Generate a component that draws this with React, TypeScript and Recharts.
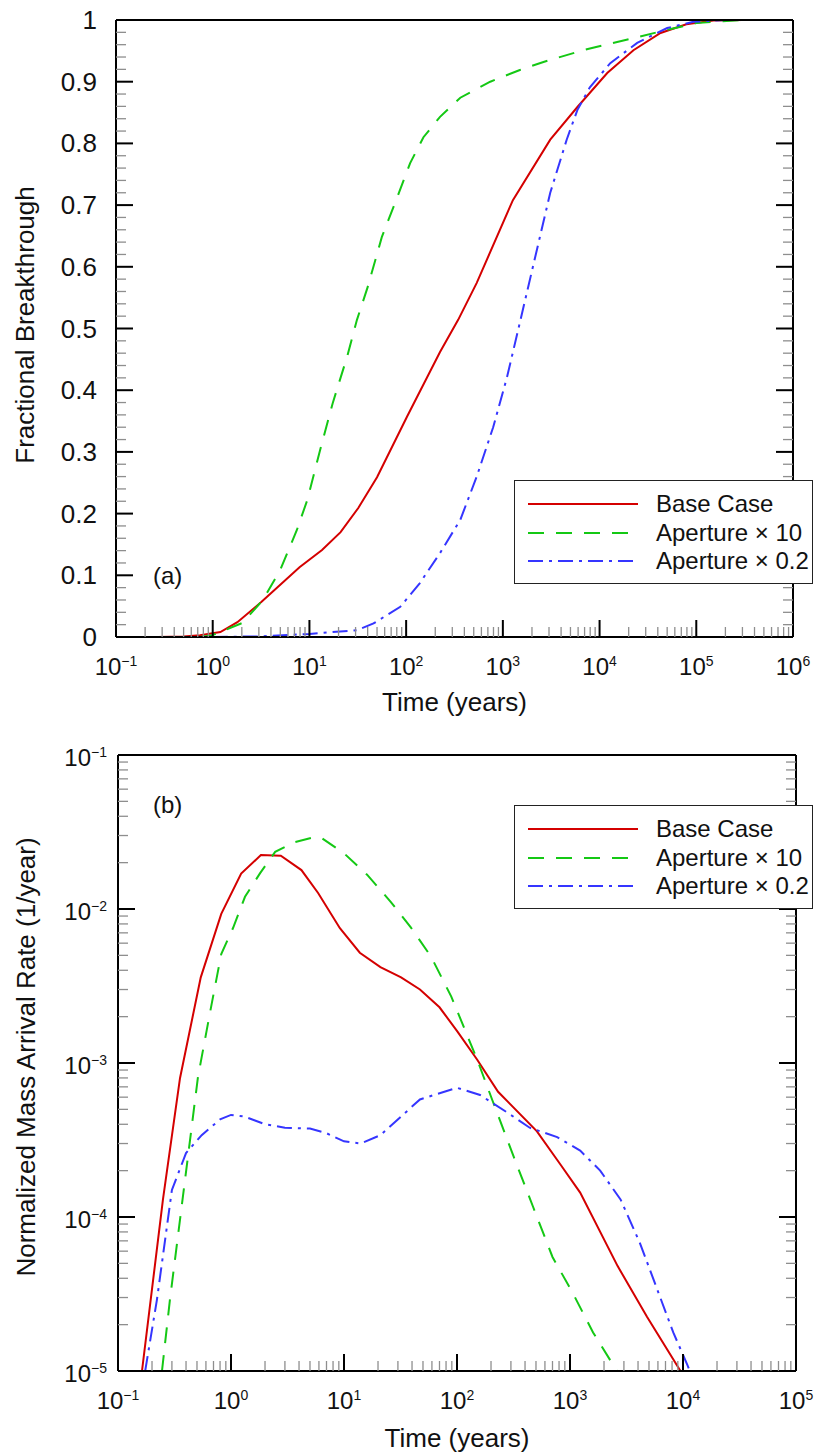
import React from 'react';
import { LineChart, Line, XAxis, YAxis, Label } from 'recharts';

const FONT = '"Liberation Sans", Arial, sans-serif';

// (a) fractional breakthrough, [time in years, fraction]
const baseCaseA: [number, number][] = [
  [0.27, 0], [0.5, 0.001], [0.74, 0.003], [1.2, 0.008], [1.8, 0.024], [3.2, 0.057],
  [7.9, 0.113], [13.5, 0.141], [21, 0.17], [32, 0.209], [50, 0.259], [102, 0.357],
  [224, 0.462], [345, 0.514], [537, 0.574], [1270, 0.708], [3090, 0.806], [5900, 0.859],
  [12000, 0.914], [22400, 0.951], [42700, 0.979], [79000, 0.993], [150000, 0.999], [300000, 1],
];
const apertureX10A: [number, number][] = [
  [0.74, 0], [1, 0.003], [2.04, 0.023], [3.3, 0.06], [5, 0.109], [7.4, 0.173],
  [9.5, 0.222], [12.9, 0.303], [17.4, 0.379], [24.5, 0.454], [31, 0.514], [40, 0.567],
  [56, 0.648], [81, 0.713], [110, 0.768], [151, 0.81], [224, 0.843], [363, 0.874],
  [741, 0.9], [1500, 0.919], [2630, 0.932], [6760, 0.951], [19000, 0.968], [50000, 0.984],
  [100000, 0.995], [300000, 1],
];
const apertureX02A: [number, number][] = [
  [1, 0], [3, 0.001], [10, 0.005], [31, 0.011], [46, 0.022], [87, 0.049], [138, 0.087],
  [224, 0.136], [363, 0.19], [537, 0.26], [794, 0.34], [1100, 0.42], [1450, 0.5],
  [3090, 0.72], [4570, 0.806], [5890, 0.854], [7940, 0.891], [12900, 0.93], [24500, 0.963],
  [50000, 0.987], [93000, 0.997], [200000, 1], [300000, 1],
];

// (b) normalized mass arrival rate, [time in years, 1/year]
const baseCaseB: [number, number][] = [
  [0.163, 1e-5], [0.25, 1.3e-4], [0.354, 8e-4], [0.54, 3.6e-3], [0.82, 9.3e-3], [1.23, 0.017],
  [1.84, 0.0224], [2.76, 0.0222], [4.2, 0.0179], [5.9, 0.0127], [9.2, 0.0075], [13.8, 0.0052],
  [21, 0.0042], [32, 0.0036], [47, 0.003], [70, 0.0023], [101, 0.0016], [151, 0.00105],
  [231, 6.5e-4], [510, 3.6e-4], [820, 2.2e-4], [1230, 1.44e-4], [2640, 4.8e-5], [4800, 2.25e-5],
  [9500, 1e-5],
];
const apertureX10B: [number, number][] = [
  [0.245, 1e-5], [0.288, 2.9e-5], [0.51, 8.1e-4], [0.65, 2.1e-3], [0.82, 5.1e-3], [1.04, 7.5e-3],
  [1.33, 0.012], [1.81, 0.0171], [2.46, 0.0235], [3.68, 0.0272], [5.5, 0.0293], [6.3, 0.029],
  [10, 0.023], [16, 0.0167], [26, 0.0111], [39, 0.0076], [59, 0.0049], [89, 0.0027],
  [151, 1.05e-3], [210, 5.5e-4], [315, 2.5e-4], [470, 1.17e-4], [700, 5.5e-5], [1060, 3.2e-5],
  [1600, 1.78e-5], [2600, 1e-5],
];
const apertureX02B: [number, number][] = [
  [0.174, 1e-5], [0.221, 2.9e-5], [0.3, 1.5e-4], [0.4, 2.6e-4], [0.55, 3.4e-4], [0.8, 4.3e-4],
  [1, 4.6e-4], [1.3, 4.5e-4], [2, 4.0e-4], [3, 3.8e-4], [5, 3.75e-4], [7, 3.5e-4], [10, 3.1e-4],
  [14, 3.0e-4], [21, 3.4e-4], [47, 5.8e-4], [100, 6.9e-4], [160, 6.2e-4], [275, 4.8e-4],
  [440, 3.8e-4], [770, 3.3e-4], [1230, 2.7e-4], [1850, 2.0e-4], [2800, 1.3e-4], [4150, 6.8e-5],
  [5900, 3.4e-5], [8200, 1.78e-5], [10900, 1.1e-5], [11500, 1e-5],
];

// axis ticks
const timeDecadesA = [0.1, 1, 10, 100, 1e3, 1e4, 1e5, 1e6];
const timeDecadesB = [0.1, 1, 10, 100, 1e3, 1e4, 1e5];
const rateDecades = [1e-5, 1e-4, 1e-3, 1e-2, 1e-1];

const series = [
  { name: 'Base Case', color: '#d40000', dash: undefined as string | undefined },
  { name: 'Aperture × 10', color: '#14c814', dash: '16 12' },
  { name: 'Aperture × 0.2', color: '#3535ff', dash: '15 6 3 6' },
];

const pts = (arr: [number, number][]) => arr.map(([x, y]) => ({ x, y }));

const withMinors = (dec: number[]) =>
  dec.flatMap((d, i) => (i === dec.length - 1 ? [d] : [d, ...[2, 3, 4, 5, 6, 7, 8, 9].map((m) => m * d)]));

// 0 .. 1 every 0.02, labels every 0.1
const fracTicks = Array.from({ length: 51 }, (_, i) => Number((i * 0.02).toFixed(2)));

const isDecade = (v: number) => Math.abs(Math.log10(v) - Math.round(Math.log10(v))) < 1e-6;
const isTenth = (v: number) => Math.abs(v * 10 - Math.round(v * 10)) < 1e-6;

const expText = (v: number) => {
  const e = Math.round(Math.log10(v));
  return e < 0 ? `\u2212${-e}` : `${e}`;
};

type Side = 'bottom' | 'top' | 'left' | 'right';

const makeTick =
  (side: Side, major: (v: number) => boolean, label?: (v: number, x: number, y: number) => React.ReactNode) =>
  (p: any) => {
    const { x, y, payload } = p;
    const v = payload.value as number;
    const big = major(v);
    const len = big ? 17 : 10;
    const style = { stroke: big ? '#000' : '#8e8e8e', strokeWidth: big ? 2 : 1.3 };
    let line;
    if (side === 'bottom') line = <line x1={x} x2={x} y1={y} y2={y - len} {...style} />;
    else if (side === 'top') line = <line x1={x} x2={x} y1={y} y2={y + len} {...style} />;
    else if (side === 'left') line = <line x1={x} x2={x + len} y1={y} y2={y} {...style} />;
    else line = <line x1={x} x2={x - len} y1={y} y2={y} {...style} />;
    return (
      <g>
        {line}
        {big && label ? label(v, x, y) : null}
      </g>
    );
  };

const timeLabel = (v: number, x: number, y: number) => (
  <text x={x} y={y + 38} textAnchor="middle" fontSize={24} fontFamily={FONT} fill="#111">
    10<tspan dy={-9} fontSize={14}>{expText(v)}</tspan>
  </text>
);

const rateLabel = (v: number, x: number, y: number) => (
  <text x={x - 11} y={y + 11} textAnchor="end" fontSize={24} fontFamily={FONT} fill="#111">
    10<tspan dy={-9} fontSize={14}>{expText(v)}</tspan>
  </text>
);

const fracLabel = (v: number, x: number, y: number) => (
  <text x={x - 19} y={y + 9} textAnchor="end" fontSize={26} fontFamily={FONT} fill="#111">
    {String(v)}
  </text>
);

const frame = { stroke: '#000', strokeWidth: 2 };

const LegendBox = ({ top }: { top: number }) => (
  <div
    style={{
      position: 'absolute',
      left: 514,
      top,
      width: 299,
      height: 104,
      boxSizing: 'border-box',
      border: '1.5px solid #222',
      background: '#fff',
      paddingTop: 9,
      fontFamily: FONT,
      fontSize: 24,
      color: '#111',
    }}
  >
    {series.map((s) => (
      <div key={s.name} style={{ display: 'flex', alignItems: 'center', height: 28.5 }}>
        <svg width={126} height={10} style={{ display: 'block' }}>
          <line x1={13} x2={123} y1={5} y2={5} stroke={s.color} strokeWidth={2} strokeDasharray={s.dash} />
        </svg>
        <span style={{ marginLeft: 15, whiteSpace: 'nowrap' }}>{s.name}</span>
      </div>
    ))}
  </div>
);

const textProps = { fontSize: 26, fontFamily: FONT, fill: '#111' };

const BreakthroughChart = () => {
  const xt = withMinors(timeDecadesA);
  return (
    <LineChart width={817} height={730} margin={{ top: 10, right: 14, bottom: 13, left: 16 }}>
      <XAxis
        dataKey="x"
        type="number"
        scale="log"
        domain={[0.1, 1e6]}
        allowDataOverflow
        ticks={xt}
        interval={0}
        height={80}
        tickSize={0}
        tickMargin={0}
        tickLine={false}
        axisLine={frame}
        tick={makeTick('bottom', isDecade, timeLabel)}
      >
        <Label value="Time (years)" position="insideBottom" offset={6} {...textProps} />
      </XAxis>
      <XAxis
        xAxisId="top"
        orientation="top"
        type="number"
        scale="log"
        domain={[0.1, 1e6]}
        allowDataOverflow
        ticks={xt}
        interval={0}
        height={10}
        tickSize={0}
        tickMargin={0}
        tickLine={false}
        axisLine={frame}
        tick={makeTick('top', isDecade)}
      />
      <YAxis
        type="number"
        domain={[0, 1]}
        allowDataOverflow
        ticks={fracTicks}
        interval={0}
        width={100}
        tickSize={0}
        tickMargin={0}
        tickLine={false}
        axisLine={frame}
        tick={makeTick('left', isTenth, fracLabel)}
      >
        <Label
          content={() => (
            <g>
              <text x={25} y={325} transform="rotate(-90 25 325)" textAnchor="middle" dominantBaseline="central" {...textProps}>
                Fractional Breakthrough
              </text>
              <text x={153} y={584} {...textProps} fontSize={24}>(a)</text>
            </g>
          )}
        />
      </YAxis>
      <YAxis
        yAxisId="right"
        orientation="right"
        type="number"
        domain={[0, 1]}
        allowDataOverflow
        ticks={fracTicks}
        interval={0}
        width={10}
        tickSize={0}
        tickMargin={0}
        tickLine={false}
        axisLine={frame}
        tick={makeTick('right', isTenth)}
      />
      {[baseCaseA, apertureX10A, apertureX02A].map((d, i) => (
        <Line
          key={series[i].name}
          data={pts(d)}
          dataKey="y"
          name={series[i].name}
          type="linear"
          stroke={series[i].color}
          strokeWidth={2}
          strokeDasharray={series[i].dash}
          dot={false}
          activeDot={false}
          isAnimationActive={false}
        />
      ))}
    </LineChart>
  );
};

const ArrivalRateChart = () => {
  const xt = withMinors(timeDecadesB);
  const yt = withMinors(rateDecades);
  return (
    <LineChart width={817} height={726} margin={{ top: 15, right: 11, bottom: 5, left: 18 }}>
      <XAxis
        dataKey="x"
        type="number"
        scale="log"
        domain={[0.1, 1e5]}
        allowDataOverflow
        ticks={xt}
        interval={0}
        height={80}
        tickSize={0}
        tickMargin={0}
        tickLine={false}
        axisLine={frame}
        tick={makeTick('bottom', isDecade, timeLabel)}
      >
        <Label value="Time (years)" position="insideBottom" offset={4} {...textProps} />
      </XAxis>
      <XAxis
        xAxisId="top"
        orientation="top"
        type="number"
        scale="log"
        domain={[0.1, 1e5]}
        allowDataOverflow
        ticks={xt}
        interval={0}
        height={10}
        tickSize={0}
        tickMargin={0}
        tickLine={false}
        axisLine={frame}
        tick={makeTick('top', isDecade)}
      />
      <YAxis
        type="number"
        scale="log"
        domain={[1e-5, 1e-1]}
        allowDataOverflow
        ticks={yt}
        interval={0}
        width={100}
        tickSize={0}
        tickMargin={0}
        tickLine={false}
        axisLine={frame}
        tick={makeTick('left', isDecade, rateLabel)}
      >
        <Label
          content={() => (
            <g>
              <text x={26} y={327} transform="rotate(-90 26 327)" textAnchor="middle" dominantBaseline="central" {...textProps}>
                Normalized Mass Arrival Rate (1/year)
              </text>
              <text x={153} y={83} {...textProps} fontSize={24}>(b)</text>
            </g>
          )}
        />
      </YAxis>
      <YAxis
        yAxisId="right"
        orientation="right"
        type="number"
        scale="log"
        domain={[1e-5, 1e-1]}
        allowDataOverflow
        ticks={yt}
        interval={0}
        width={10}
        tickSize={0}
        tickMargin={0}
        tickLine={false}
        axisLine={frame}
        tick={makeTick('right', isDecade)}
      />
      {[baseCaseB, apertureX10B, apertureX02B].map((d, i) => (
        <Line
          key={series[i].name}
          data={pts(d)}
          dataKey="y"
          name={series[i].name}
          type="linear"
          stroke={series[i].color}
          strokeWidth={2}
          strokeDasharray={series[i].dash}
          dot={false}
          activeDot={false}
          isAnimationActive={false}
        />
      ))}
    </LineChart>
  );
};

export default function App() {
  return (
    <div style={{ position: 'absolute', left: 0, top: 0, width: 817, height: 1456, background: '#fff' }}>
      <BreakthroughChart />
      <ArrivalRateChart />
      <LegendBox top={480} />
      <LegendBox top={805} />
    </div>
  );
}
